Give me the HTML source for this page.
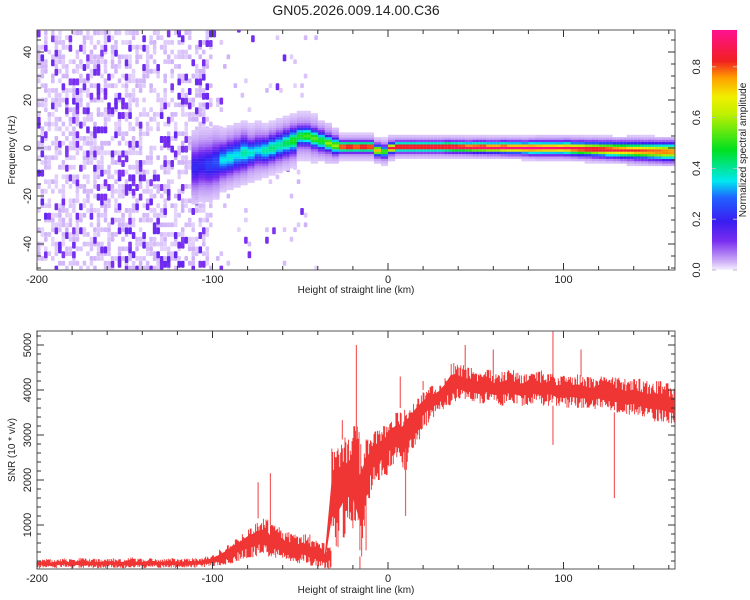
<!DOCTYPE html>
<html><head><meta charset="utf-8">
<style>
html,body{margin:0;padding:0;background:#fff;}
svg{display:block;font-family:"Liberation Sans",sans-serif;}
</style></head>
<body>
<svg id="fig" width="750" height="600" viewBox="0 0 750 600">
<text x="356" y="15" font-size="14" text-anchor="middle" fill="#222">GN05.2026.009.14.00.C36</text>
<defs>
<linearGradient id="cmap" x1="0" y1="1" x2="0" y2="0">
<stop offset="0" stop-color="#f6f0ff"/><stop offset="0.04" stop-color="#c9a8f7"/>
<stop offset="0.12" stop-color="#7b2ff0"/><stop offset="0.2" stop-color="#3a1cf0"/>
<stop offset="0.3" stop-color="#2060ff"/><stop offset="0.37" stop-color="#00e8f0"/>
<stop offset="0.5" stop-color="#00e020"/><stop offset="0.65" stop-color="#c0f000"/>
<stop offset="0.72" stop-color="#f0f000"/><stop offset="0.8" stop-color="#ffa000"/>
<stop offset="0.87" stop-color="#f02020"/><stop offset="1" stop-color="#ff1090"/>
</linearGradient>
<clipPath id="clipTop"><rect x="37" y="30" width="638" height="240"/></clipPath>
<clipPath id="clipBot"><rect x="37" y="331" width="638" height="238"/></clipPath>
</defs>
<g id="topPlot" clip-path="url(#clipTop)"></g>
<g id="topAxes"></g>
<g id="colorbar"></g>
<g id="botPlot" clip-path="url(#clipBot)"></g>
<g id="botAxes"></g>
</svg>
<script>
// ---------- data ----------
const ridgeStart = -112;
const ridgeStep = 4;
const ridgeFreq = [-8,-7,-7,-6,-5,-4,-3,-2,-2,-1,-1,0,1,2,3,5,5,4,3,2,1,0.5,0.5,0.5,0.5,0.5,-1,-1.5,0,
 0.5,0.5,0.5,0.5,0.5,0.5,0.5,0.5,0.4,0.4,0.3,0.3,0.3,0.2,0.2,0.2,0.1,0.1,0,0,0,0,0,
 0,0,-0.2,-0.3,-0.4,-0.5,-0.6,-0.7,-0.8,-0.9,-1,-1.1,-1.2,-1.3,-1.4,-1.5,-1.5,-1.5];
const ridgeAmp = [0.15,0.15,0.18,0.2,0.3,0.32,0.3,0.35,0.33,0.3,0.35,0.38,0.36,0.4,0.45,0.45,0.48,0.5,0.45,0.55,0.55,0.85,0.88,0.85,0.88,0.86,0.7,0.5,0.85,
 0.9,0.9,0.92,0.9,0.9,0.92,0.9,0.9,0.92,0.9,0.9,0.9,0.92,0.9,0.9,0.92,0.9,0.9,0.95,0.95,0.92,0.9,0.9,
 0.88,0.88,0.87,0.86,0.86,0.85,0.85,0.84,0.83,0.82,0.8,0.8,0.79,0.78,0.78,0.77,0.76,0.75];
const ridgeWidth = [6,6,6,6,5,5,5,5,4,4,4,4,4,4,4,3,3,3,3,2.5,2.5,1.6,1.6,1.6,1.6,1.6,1.8,1.8,1.6,
 1.5,1.5,1.5,1.5,1.5,1.5,1.5,1.6,1.6,1.6,1.6,1.7,1.7,1.7,1.7,1.8,1.8,1.8,1.8,1.9,1.9,1.9,1.9,
 1.9,2,2,2.1,2.1,2.2,2.2,2.3,2.3,2.4,2.4,2.5,2.5,2.6,2.6,2.7,2.7,2.7];
const haloWidth = [14,14,14,14,12,12,12,12,11,11,10,10,10,10,10,9,9,9,8,8,7,5,5,5,5,5,5,5,5,
 4.5,4.5,4.5,4.5,4.5,4.5,4.5,4.5,4.5,4.5,4.5,4.5,4.5,4.5,4.5,4.5,4.5,4.5,4.5,4.5,5,5,5,
 5,5,5,5,5,5,5,5,5,5,5.5,5.5,5.5,5.5,5.5,5.5,5.5,5.5];
const noiseStart = -200;
const noiseDensity = [0.55,0.55,0.55,0.55,0.55,0.55,0.55,0.5,0.5,0.45,0.1,0.05,0.04,0.03,0.05,0.05];
const snrStart = -200;
const snrStep = 4;
const snrLo = [40,60,30,50,70,40,50,60,40,50,60,50,40,60,50,40,70,50,60,40,50,60,50,
 60,70,80,100,150,200,250,280,300,350,300,250,250,200,150,150,100,80,30,
 500,600,1100,900,300,1600,2000,2100,2300,2500,2200,2700,2900,3200,3400,3550,3650,3750,3800,3750,3750,
 3700,3750,3700,3650,3700,3700,3650,3700,3700,3650,3700,3650,3600,3650,3600,3600,3550,3600,3550,3500,3500,3450,3450,3400,3350,3300,3300,3250,3200];
const snrHi = [230,250,220,260,240,230,270,240,250,230,260,240,230,280,250,240,260,230,250,270,240,250,260,
 260,300,330,450,550,700,800,950,1050,1150,1000,950,850,800,750,800,650,600,500,
 2700,3000,2900,3200,2900,2900,3100,3200,3300,3500,3600,3700,3900,4000,4100,4100,4300,4600,4550,4500,4400,
 4400,4450,4350,4400,4450,4400,4350,4400,4450,4350,4400,4300,4350,4300,4350,4300,4250,4300,4250,4300,4250,4200,4250,4200,4150,4200,4150,4100,4100];
const spikeKm = [-74,-67,-26,-18,-16,7,10,20,44,60,94,94,129,110];
const spikeVal = [1950,2150,3330,5000,0,4300,1200,4200,5000,4900,5300,2780,1600,4900];
const xTicks = [-200,-100,0,100];
const topYTicks = [-40,-20,0,20,40];
const botYTicks = [1000,2000,3000,4000,5000];
const cbTicks = [0.0,0.2,0.4,0.6,0.8];

// ---------- scales ----------
const X0=37, X1=675;
const xS = km => 388 + (km)*1.755;
const fS = f => 148 - f*2.4;
const sS = v => 570 - v*0.045;
const cbS = v => 270 - v*254;
const NS="http://www.w3.org/2000/svg";
function mk(tag, attrs, parent){const e=document.createElementNS(NS,tag);for(const k in attrs)e.setAttribute(k,attrs[k]);parent.appendChild(e);return e;}

const stops=[[0,[246,240,255]],[0.04,[201,168,247]],[0.12,[123,47,240]],[0.2,[58,28,240]],[0.3,[32,96,255]],[0.37,[0,232,240]],[0.5,[0,224,32]],[0.65,[192,240,0]],[0.72,[240,240,0]],[0.8,[255,160,0]],[0.87,[240,32,32]],[1,[255,16,144]]];
function cmap(v){v=Math.max(0,Math.min(1,v));for(let i=1;i<stops.length;i++){if(v<=stops[i][0]){const a=stops[i-1],b=stops[i];const t=(v-a[0])/(b[0]-a[0]);const c=a[1].map((x,j)=>Math.round(x+(b[1][j]-x)*t));return `rgb(${c[0]},${c[1]},${c[2]})`;}}return 'rgb(255,16,144)';}
function hash(a,b){let h=(a*374761393+b*668265263)|0;h=Math.imul(h^(h>>>13),1274126177);return ((h^(h>>>16))>>>0)/4294967296;}

// ---------- top: noise speckles ----------
const topG=document.getElementById('topPlot');
const noiseG=mk('g',{},topG);


for(let b=0;b<noiseDensity.length;b++){
  for(let k=0;k<5;k++){
    const km=noiseStart+b*10+k*2;
    for(let f=-51;f<50;f+=2){
      const r=hash(km*7+3,f*13+11);
      if(r<noiseDensity[b]){
        const r2=hash(km*3+1,f*5+7);
        const dark = r2<0.2;
        const v = dark ? 0.11+r2*0.2 : 0.01+r2*0.025;
        const rc=mk('rect',{x:xS(km),y:fS(f+2),width:3.6,height:(dark?7:4.9),rx:1,fill:cmap(v)},noiseG);
        
        
      }
    }
  }
}
// ---------- top: ridge ----------
const ridgeG=mk('g',{},topG);


for(let km=ridgeStart;km<166;km+=2){
  const i=Math.min(ridgeFreq.length-1,Math.floor((km-ridgeStart)/ridgeStep));
  const c=ridgeFreq[i], a=ridgeAmp[i], w=ridgeWidth[i], h=haloWidth[i];
  for(let f=Math.floor(c-h*1.6);f<=Math.ceil(c+h*1.6);f+=1){
    const d=f-c;
    const v=a*Math.exp(-(d/w)*(d/w))+0.07*Math.exp(-(d/h)*(d/h));
    if(v<0.02) continue;
    const rc=mk('rect',{x:xS(km),y:fS(f+0.5),width:3.6,height:2.5,fill:cmap(v)},ridgeG);
    
    
  }
}

// ---------- axes helper ----------
function axes(g, yTop, yBot, yTicks, yScale, yMinor, xTitleY, yTitle, yLabelFmt){
  mk('rect',{x:X0,y:yTop,width:X1-X0,height:yBot-yTop,fill:'none',stroke:'#555','stroke-width':1},g);
  for(let km=-200;km<=160;km+=20){
    const x=xS(km), L=(km%100===0)?7:4;
    mk('line',{x1:x,y1:yBot,x2:x,y2:yBot-L,stroke:'#333'},g);
    mk('line',{x1:x,y1:yTop,x2:x,y2:yTop+L,stroke:'#333'},g);
  }
  xTicks.forEach(t=>{const e=mk('text',{x:xS(t),y:yBot+13,'font-size':11,'text-anchor':'middle',fill:'#222'},g);e.textContent=t;
    });
  yMinor.forEach(v=>{const y=yScale(v);mk('line',{x1:X0,y1:y,x2:X0+4,y2:y,stroke:'#333'},g);mk('line',{x1:X1,y1:y,x2:X1-4,y2:y,stroke:'#333'},g);});
  yTicks.forEach(t=>{const y=yScale(t);mk('line',{x1:X0,y1:y,x2:X0+7,y2:y,stroke:'#333'},g);mk('line',{x1:X1,y1:y,x2:X1-7,y2:y,stroke:'#333'},g);
    const e=mk('text',{x:0,y:0,'font-size':11,'text-anchor':'middle',fill:'#222',transform:`translate(31,${y}) rotate(-90)`},g);e.textContent=yLabelFmt(t);
    });
  const xt=mk('text',{x:356,y:xTitleY,'font-size':10,'text-anchor':'middle',fill:'#222'},g);xt.textContent='Height of straight line (km)';
  
  const yt=mk('text',{x:0,y:0,'font-size':10,'text-anchor':'middle',fill:'#222',transform:`translate(15,${(yTop+yBot)/2}) rotate(-90)`},g);yt.textContent=yTitle;
  
}
const tMinor=[];for(let f=-50;f<=48;f+=5)tMinor.push(f);
axes(document.getElementById('topAxes'),30,270,topYTicks,fS,tMinor,293,'Frequency (Hz)',t=>t);
const bMinor=[];for(let v=200;v<=5200;v+=200)bMinor.push(v);
axes(document.getElementById('botAxes'),331,569,botYTicks,sS,bMinor,593,'SNR (10 * v/v)',t=>t);

// ---------- colorbar ----------
const cb=document.getElementById('colorbar');
const cbr=mk('rect',{x:712,y:cbS(0.945),width:25,height:cbS(0)-cbS(0.945),fill:'url(#cmap)'},cb);

cbTicks.forEach(t=>{const y=cbS(t);mk('line',{x1:712,y1:y,x2:716,y2:y,stroke:'#bbb'},cb);mk('line',{x1:733,y1:y,x2:737,y2:y,stroke:'#bbb'},cb);
  const e=mk('text',{x:0,y:0,'font-size':11,'text-anchor':'middle',fill:'#222',transform:`translate(700,${y}) rotate(-90)`},cb);e.textContent=t.toFixed(1);
  });
const cbt=mk('text',{x:0,y:0,'font-size':10,'text-anchor':'middle',fill:'#222',transform:'translate(746,150) rotate(-90)'},cb);
cbt.textContent='Normalized spectral amplitude';


// ---------- bottom SNR ----------
const bot=document.getElementById('botPlot');
const up=[],dn=[];
for(let i=0;i<snrLo.length;i++){const x=xS(snrStart+i*snrStep);
  const rng=snrHi[i]-snrLo[i];
  up.push(`${x},${sS(snrHi[i]-rng*0.3)}`);dn.unshift(`${x},${sS(snrLo[i]+rng*0.3)}`);}
const bp=mk('polygon',{points:up.concat(dn).join(' '),fill:'#f03535'},bot);

let d='';
for(let k=0;k<=(164-snrStart)*2;k++){
  const km=snrStart+k*0.5;
  const j=Math.min(snrLo.length-1,Math.floor((km-snrStart)/snrStep));
  const lo=snrLo[j], hi=snrHi[j], rng=hi-lo;
  const a=hash(k*17+5,91), b=hash(k*29+3,47);
  const yt=hi - rng*0.45*a*a;
  const yb=lo + rng*0.45*b*b;
  const x=xS(km);
  d+=`M${x.toFixed(2)},${sS(yb).toFixed(1)}V${sS(yt).toFixed(1)}`;
}
const nl=mk('path',{d:d,fill:'none',stroke:'#f03535','stroke-width':0.9},bot);

for(let i=0;i<spikeKm.length;i++){
  const x=xS(spikeKm[i]);const j=Math.max(0,Math.min(snrLo.length-1,Math.round((spikeKm[i]-snrStart)/snrStep)));
  const base=spikeVal[i]>snrHi[j]?snrHi[j]:snrLo[j];
  const s=mk('line',{x1:x,y1:sS(base),x2:x,y2:sS(spikeVal[i]),stroke:'#f06060','stroke-width':1.2},bot);
  
}
</script>
</body></html>
